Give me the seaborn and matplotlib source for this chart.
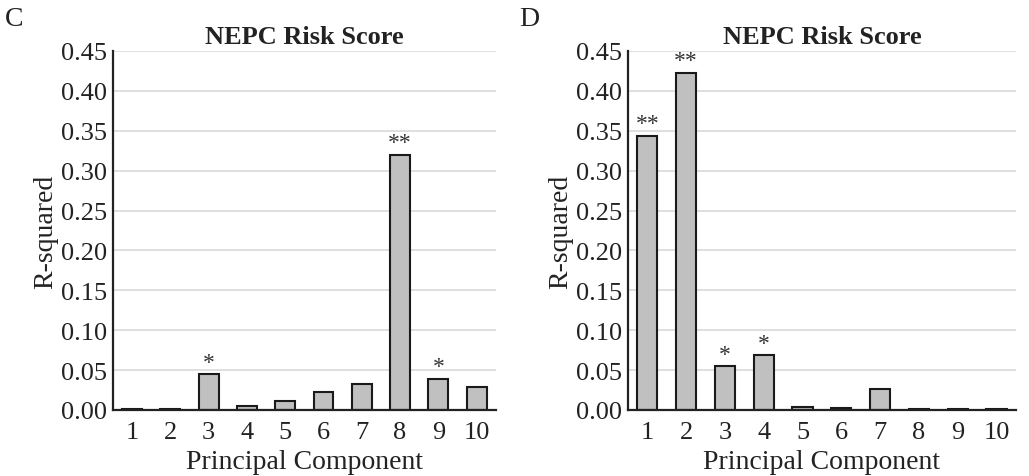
import seaborn as sns
import numpy as np
import pandas as pd
import matplotlib.pyplot as plt

components = [1, 2, 3, 4, 5, 6, 7, 8, 9, 10]
r2_c = [0.001, 0.001, 0.045, 0.005, 0.011, 0.023, 0.033, 0.320, 0.039, 0.029]
stars_c = ['', '', '*', '', '', '', '', '**', '*', '']
r2_d = [0.344, 0.423, 0.055, 0.069, 0.004, 0.0025, 0.026, 0.001, 0.001, 0.001]
stars_d = ['**', '**', '*', '*', '', '', '', '', '', '']
yticks = [0.00, 0.05, 0.10, 0.15, 0.20, 0.25, 0.30, 0.35, 0.40, 0.45]

sns.set_theme(style='white')
plt.rcParams['font.family'] = ['Liberation Serif', 'DejaVu Serif']

fig = plt.figure(figsize=(10.29, 4.77), dpi=100)
ax_c = fig.add_axes([0.1098, 0.1384, 0.372, 0.7526])
ax_d = fig.add_axes([0.6103, 0.1384, 0.377, 0.7526])

panels = [(ax_c, r2_c, stars_c, 'C', 0.005), (ax_d, r2_d, stars_d, 'D', 0.505)]
for ax, vals, stars, letter, lx in panels:
    df = pd.DataFrame({'pc': components, 'r2': vals})
    sns.barplot(data=df, x='pc', y='r2', ax=ax, color='#c0c0c0',
                edgecolor='#1a1a1a', linewidth=1.5, width=0.52, saturation=1)
    ax.set_ylim(0, 0.45)
    ax.set_yticks(yticks)
    ax.set_yticklabels([f'{t:.2f}' for t in yticks])
    ax.yaxis.grid(True, color='#d9d9d9', linewidth=1.2)
    ax.set_axisbelow(True)
    for s in ['top', 'right']:
        ax.spines[s].set_visible(False)
    for s in ['left', 'bottom']:
        ax.spines[s].set_color('#222222')
        ax.spines[s].set_linewidth(1.6)
    ax.tick_params(axis='y', length=0, labelsize=19, colors='#222222', pad=4)
    ax.tick_params(axis='x', length=0, labelsize=19, colors='#222222', pad=8)
    ax.set_xlabel('Principal Component', fontsize=20, color='#222222', labelpad=4)
    ax.set_ylabel('R-squared', fontsize=20, color='#222222', labelpad=2)
    ax.set_title('NEPC Risk Score', fontsize=19, fontweight='bold', color='#222222', pad=6)
    for i, (v, s) in enumerate(zip(vals, stars)):
        if s:
            ax.annotate(s, (i, v), xytext=(0, 1), textcoords='offset points',
                        ha='center', va='bottom', fontsize=17, color='#333333')
    fig.text(lx, 0.96, letter, fontsize=20, color='#222222', ha='left', va='center')

fig.savefig('out.png', dpi=100)
